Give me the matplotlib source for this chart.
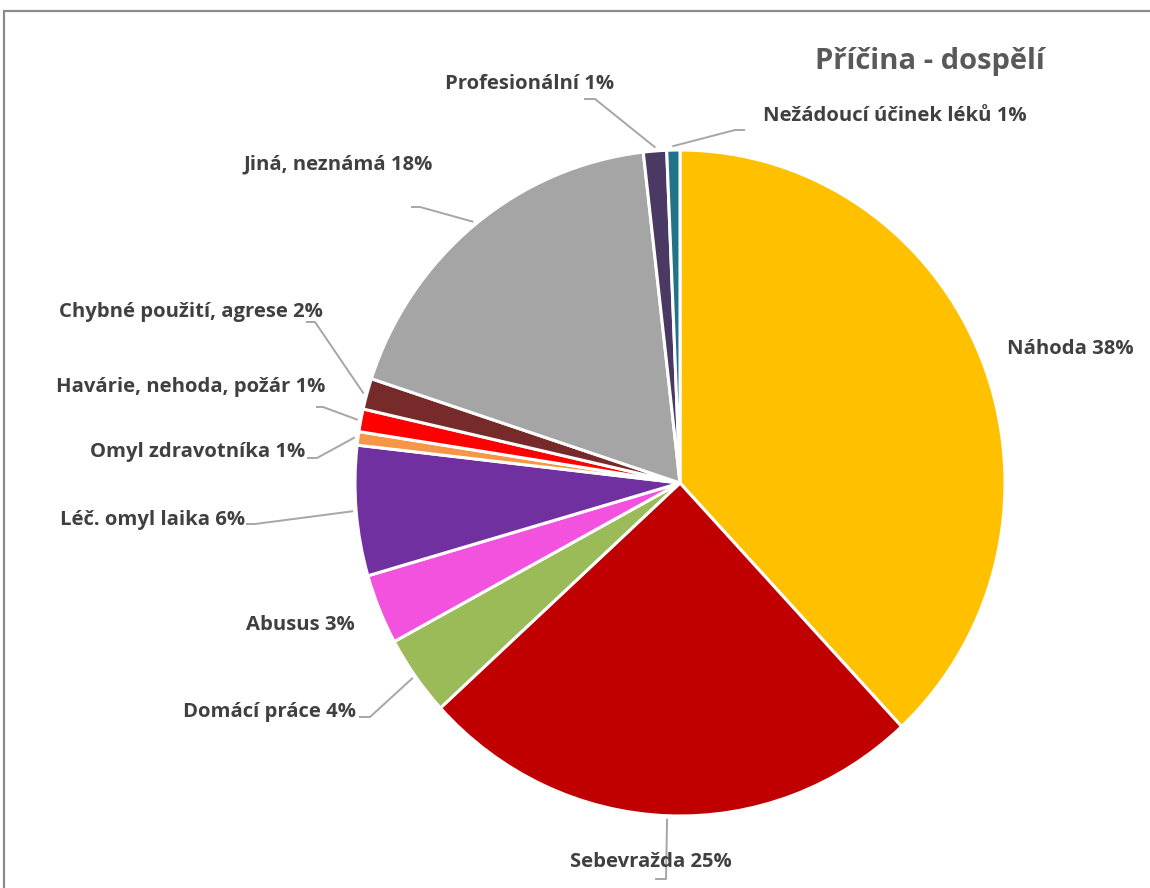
import matplotlib
matplotlib.use("Agg")
import matplotlib.pyplot as plt
from matplotlib import font_manager
import numpy as np

# data
labels = ["Náhoda", "Sebevražda", "Domácí práce", "Abusus", "Léč. omyl laika",
          "Omyl zdravotníka", "Havárie, nehoda, požár", "Chybné použití, agrese",
          "Jiná, neznámá", "Profesionální", "Nežádoucí účinek léků"]
values = [38.0, 25.1, 3.9, 3.4, 6.3, 0.65, 1.1, 1.5, 18.1, 1.15, 0.65]
shown_pct = [38, 25, 4, 3, 6, 1, 1, 2, 18, 1, 1]
colors = ["#FFC000", "#C00000", "#9BBB59", "#F352DF", "#7030A0", "#F79646",
          "#FF0000", "#772A2A", "#A5A5A5", "#4A3A63", "#217387"]


def pick_font(names):
    for n in names:
        try:
            font_manager.findfont(n, fallback_to_default=False)
            return n
        except Exception:
            pass
    return "DejaVu Sans"


fam = pick_font(["Liberation Sans Narrow", "Open Sans", "Noto Sans"])
plt.rcParams['font.family'] = [fam, 'DejaVu Sans']

W, H = 1150, 888
fig = plt.figure(figsize=(W / 100, H / 100), dpi=100)

# pie sits in its own box (the original is stretched slightly in height)
cx, cy = 680, H - 483
rx, ry = 325, 333
axp = fig.add_axes([(cx - rx) / W, (cy - ry) / H, 2 * rx / W, 2 * ry / H])
wedges, _ = axp.pie(values, colors=colors, startangle=90, counterclock=False,
                    radius=1, wedgeprops=dict(edgecolor="white", linewidth=2.2))
axp.set_aspect("auto")
axp.set_xlim(-1, 1)
axp.set_ylim(-1, 1)
axp.axis("off")

# overlay in pixel units for texts and leader lines
ax = fig.add_axes([0, 0, 1, 1])
ax.set_xlim(0, W)
ax.set_ylim(0, H)
ax.axis("off")
ax.patch.set_alpha(0)

# frame of the chart area
ax.plot([4, 4, W + 10], [-10, H - 11, H - 11], color="#8C8C8C", lw=1.6,
        solid_joinstyle="miter")

ax.text(930, H - 62, "Příčina - dospělí", ha="center", va="center",
        fontsize=21, fontweight="bold", color="#595959")

# label placement: (x, y, ha, elbow points) in image pixels, None = no leader
place = [
    (1007, 349, "left", None),
    (651, 862, "center", [(666, 879), (656, 879)]),
    (356, 712, "right", [(370, 717), (360, 717)]),
    (355, 625, "right", None),
    (245, 520, "right", [(255, 524), (247, 524)]),
    (305, 452, "right", [(317, 458), (308, 458)]),
    (325, 387, "right", [(323, 407), (317, 407)]),
    (323, 312, "right", [(315, 322), (307, 322)]),
    (433, 164, "right", [(420, 207), (412, 207)]),
    (614, 84, "right", [(595, 99), (585, 99)]),
    (763, 116, "left", [(735, 130), (744, 130)]),
]

for w, lab, p, (tx, ty, ha, elbow) in zip(wedges, labels, shown_pct, place):
    ax.text(tx, H - ty, f"{lab} {p}%", ha=ha, va="center", fontsize=14.6,
            fontweight="bold", color="#404040")
    if elbow:
        mid = np.deg2rad((w.theta1 + w.theta2) / 2)
        pts = [(cx + (rx + 4) * np.cos(mid), cy + (ry + 4) * np.sin(mid))]
        pts += [(x, H - y) for x, y in elbow]
        xs, ys = zip(*pts)
        ax.plot(xs, ys, color="#A6A6A6", lw=1.4)

fig.savefig("out.png", dpi=100)
